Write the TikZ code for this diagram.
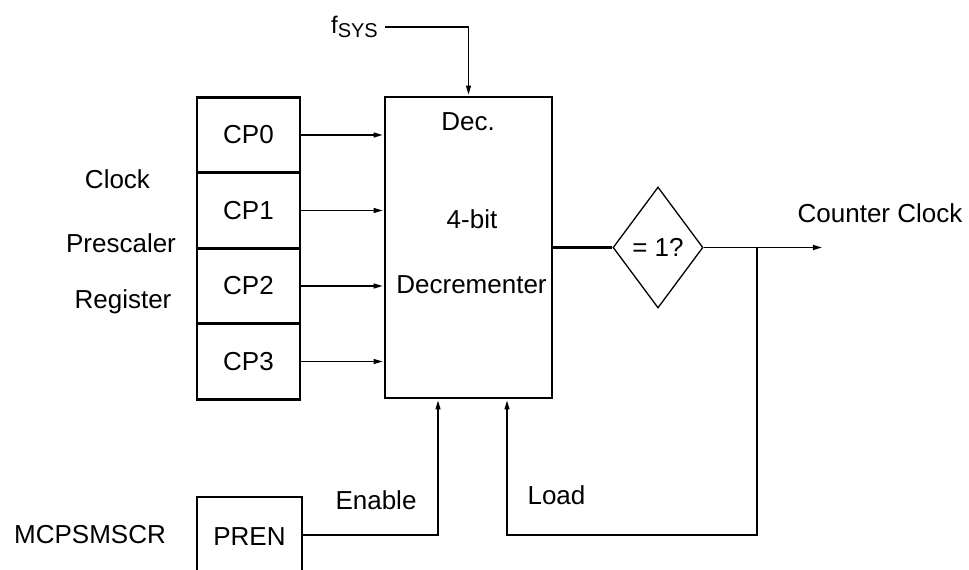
\documentclass[tikz,border=0pt]{standalone}
\usepackage{fontspec}
\setmainfont{Liberation Sans}
\usetikzlibrary{arrows.meta,shapes.geometric}
\begin{document}
\begin{tikzpicture}[x=1pt,y=-1pt,
  txt/.style={font=\fontsize{26}{30}\selectfont, inner sep=0pt},
  lbl/.style={txt, anchor=base},
  box/.style={draw, line width=2.7pt, inner sep=0pt},
  cell/.style={box, txt, minimum width=103pt, minimum height=75.5pt},
  conn/.style={line width=1.3pt},
  arr/.style={conn, -{Triangle[length=9pt,width=5pt]}, shorten >=1.1pt},
]
\useasboundingbox (0,0) rectangle (969,570);
\clip (0,0) rectangle (969,570);

% register cells
\node[cell] (cp0) at (248.5,135) {CP0};
\node[cell] (cp1) at (248.5,210.5) {CP1};
\node[cell] (cp2) at (248.5,286) {CP2};
\node[cell] (cp3) at (248.5,361.5) {CP3};

\node[lbl] (clk) at (117.5,188) {Clock};
\node[lbl] (pre) at (121,252) {Prescaler};
\node[lbl] (reg) at (123,308) {Register};

% decrementer
\node[box, minimum width=167pt, minimum height=301pt] (dec) at (468.5,247.5) {};
\node[lbl] (t1) at (468,130) {Dec.};
\node[lbl] (t2) at (472,228) {4-bit};
\node[lbl] (t3) at (471.5,293) {Decrementer};

% fsys
\node[txt, inner xsep=7pt, anchor=base east] (fsys) at (385,33)
  {\fontsize{24}{28}\selectfont f\raisebox{-5pt}{\fontsize{20}{24}\selectfont SYS}};
\draw[arr] (fsys.east) -- (fsys.east -| dec.north) -- (dec.north);

% register to decrementer
\foreach \c in {cp0,cp1,cp2,cp3}
  \draw[arr] (\c.east) -- (\c.east -| dec.west);

% diamond
\node[draw, conn, diamond, minimum width=90pt, minimum height=121pt, inner sep=0pt,
      shape aspect=0.74, txt] (dia) at (658,247.5) {= 1?};
\draw[line width=2.4pt] (dec.east) -- (dia.west);

\coordinate (outend) at (823,247.5);
\draw[arr] (dia.east) -- (outend);
\node[lbl] (cc) at (880,222) {Counter Clock};

% load feedback
\coordinate (tap) at (757,247.5);
\coordinate (lr) at (757,535);
\coordinate (ll) at (507,535);
\draw[arr] (tap) -- (lr) -- (ll) -- (ll |- dec.south);
\node[lbl] (load) at (556.5,504) {Load};

% enable
\node[cell, minimum width=105pt, minimum height=80pt] (pren) at (249.5,537) {PREN};
\node[lbl] (mcp) at (90,543) {MCPSMSCR};
\coordinate (en) at (438,535);
\draw[arr] (pren.east |- en) -- (en) -- (en |- dec.south);
\node[lbl] (enable) at (376,509) {Enable};
\end{tikzpicture}
\end{document}
